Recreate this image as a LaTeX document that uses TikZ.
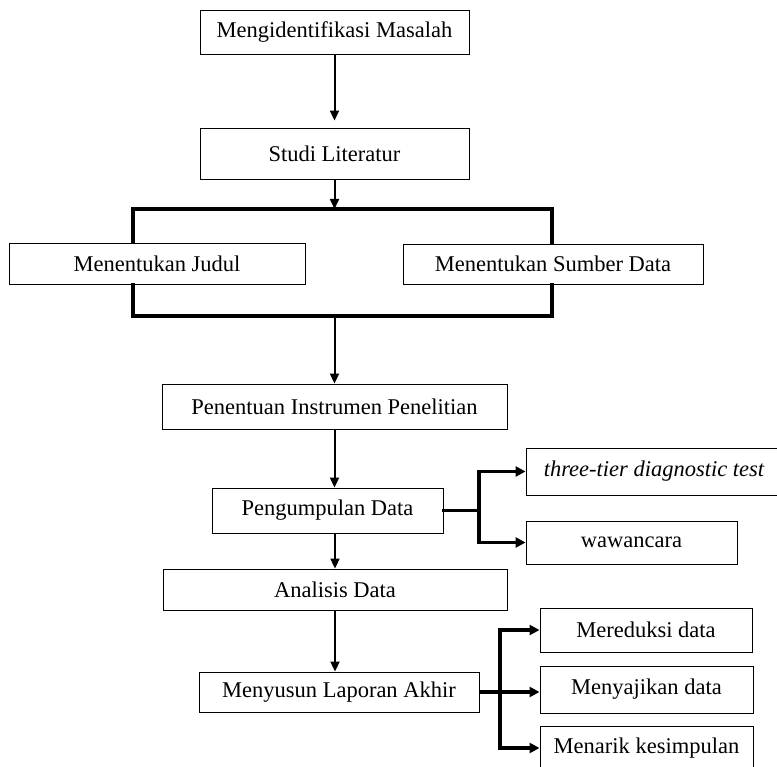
\documentclass[tikz,border=0pt]{standalone}
\usepackage{fontspec}
\setmainfont{Liberation Serif}
\usetikzlibrary{arrows.meta,positioning}

\tikzset{
  box/.style={draw,line width=0.9pt,inner sep=0pt,font=\fontsize{22.5}{26}\selectfont},
  arr/.style={line width=2pt,-{Triangle[length=10pt,width=9pt]}},
  bracket/.style={line width=3.2pt,line cap=rect,line join=miter},
  branch/.style={line width=3.2pt,line cap=rect},
  brarr/.style={line width=3.2pt,-{Triangle[length=10pt,width=10pt]}}
}

\begin{document}
\begin{tikzpicture}[x=1pt,y=-1pt]
  \useasboundingbox (0,0) rectangle (777,767);
  % main column
  \node[box,minimum width=269pt,minimum height=44pt] (ident) at (334.5,32) {Mengidentifikasi Masalah};
  \node[box,minimum width=269pt,minimum height=51pt] (studi) at (334.5,153.5) {Studi Literatur};
  \node[box,minimum width=296pt,minimum height=41pt] (judul) at (157,263.5) {Menentukan Judul};
  \node[box,minimum width=300pt,minimum height=40pt] (sumber) at (553,264) {Menentukan Sumber Data};
  \node[box,minimum width=345pt,minimum height=45pt] (instr) at (334.5,406.5) {Penentuan Instrumen Penelitian};
  \node[box,minimum width=231pt,minimum height=45pt] (kumpul) at (327.5,510.5) {Pengumpulan Data};
  \node[box,minimum width=344pt,minimum height=41pt] (analisis) at (335,589.5) {Analisis Data};
  \node[box,minimum width=280pt,minimum height=40pt] (susun) at (339,692) {Menyusun Laporan Akhir};
  % side boxes
  \node[box,minimum width=256pt,minimum height=47pt] (tiga) at (654,471.5) {\itshape three-tier diagnostic test};
  \node[box,minimum width=211pt,minimum height=43pt] (wawan) at (631.5,542.5) {wawancara};
  \node[box,minimum width=212pt,minimum height=44pt] (reduksi) at (646,630) {Mereduksi data};
  \node[box,minimum width=213pt,minimum height=47pt] (sajikan) at (646.5,689.5) {Menyajikan data};
  \node[box,minimum width=213pt,minimum height=44pt] (tarik) at (646.5,748) {Menarik kesimpulan};

  % bracket corners and branch points
  \coordinate (brTL) at (133,209);
  \coordinate (brTR) at (552,209);
  \coordinate (brBL) at (133,316);
  \coordinate (brBR) at (552,316);
  \coordinate (kv) at (479,510);
  \coordinate (sv) at (500,692);

  \draw[arr,shorten >=7pt] (ident.south) -- (studi.north);
  \draw[arr] (studi.south) -- (studi.south |- brTL);
  \draw[bracket] (brTL |- judul.north) -- (brTL) -- (brTR) -- (brTR |- sumber.north);
  \draw[bracket] (brBL |- judul.south) -- (brBL) -- (brBR) -- (brBR |- sumber.south);
  \draw[arr] (instr.north |- brBL) -- (instr.north);
  \draw[arr] (instr.south) -- (kumpul.north -| instr.south);
  \draw[arr] (kumpul.south -| analisis.north) -- (analisis.north);
  \draw[arr] (analisis.south) -- (susun.north -| analisis.south);

  % Pengumpulan Data branches
  \draw[branch] (kumpul.east) -- (kumpul.east -| kv);
  \draw[branch] (kv |- tiga.west) -- (kv |- wawan.west);
  \draw[brarr] (kv |- tiga.west) -- (tiga.west);
  \draw[brarr] (kv |- wawan.west) -- (wawan.west);

  % Menyusun Laporan Akhir branches
  \draw[branch] (sv |- reduksi.west) -- (sv |- tarik.west);
  \draw[brarr] (susun.east) -- (susun.east -| sajikan.west);
  \draw[brarr] (sv |- reduksi.west) -- (reduksi.west);
  \draw[brarr] (sv |- tarik.west) -- (tarik.west);
\end{tikzpicture}
\end{document}
